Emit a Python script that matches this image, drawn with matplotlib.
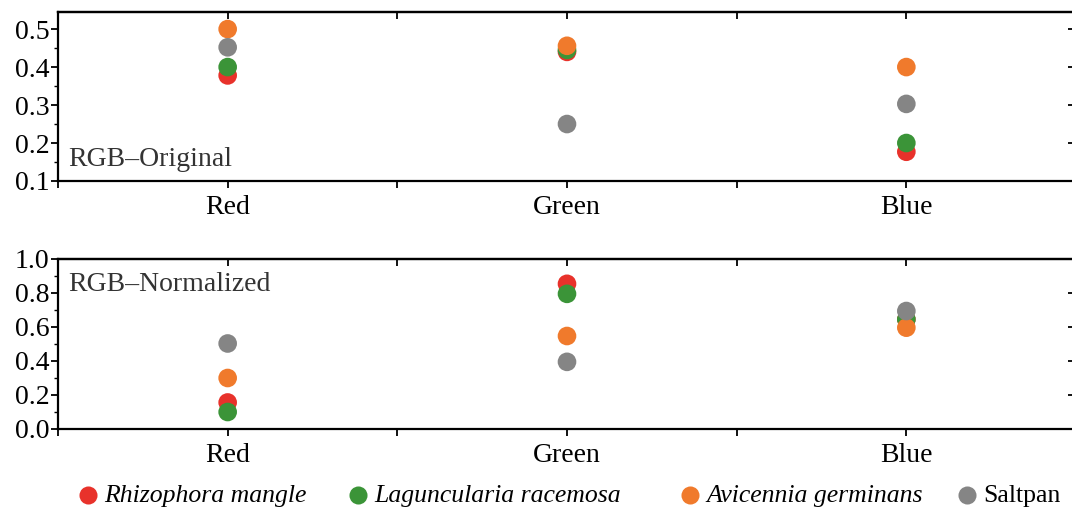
import matplotlib
matplotlib.use("Agg")
import matplotlib.pyplot as plt
from matplotlib.ticker import MultipleLocator
from matplotlib.lines import Line2D

plt.rcParams['font.family'] = ['Liberation Serif', 'DejaVu Serif']

categories = ["Red", "Green", "Blue"]
species = ["Rhizophora mangle", "Laguncularia racemosa", "Avicennia germinans", "Saltpan"]
italic = [True, True, True, False]
colors = ["#e8322b", "#3b9438", "#f07a2c", "#858585"]

original = {
    "Rhizophora mangle":     [0.378, 0.440, 0.177],
    "Laguncularia racemosa": [0.400, 0.445, 0.200],
    "Avicennia germinans":   [0.500, 0.456, 0.400],
    "Saltpan":               [0.452, 0.250, 0.303],
}
normalized = {
    "Rhizophora mangle":     [0.156, 0.854, 0.645],
    "Laguncularia racemosa": [0.100, 0.795, 0.645],
    "Avicennia germinans":   [0.300, 0.547, 0.596],
    "Saltpan":               [0.503, 0.395, 0.694],
}

W, H = 1072, 512
fig = plt.figure(figsize=(W / 100, H / 100), dpi=100)

def px_axes(left, top, right, bottom):
    return fig.add_axes([left / W, 1 - bottom / H, (right - left) / W, (bottom - top) / H])

ax1 = px_axes(58, 12, 1076, 181)
ax2 = px_axes(58, 259, 1076, 429)

FS = 20
LFS = 18.5
xs = list(range(len(categories)))

def style(ax, ylim, major, minor, label, label_pos):
    ax.set_xlim(-0.5, 2.5)
    ax.set_ylim(*ylim)
    ax.set_xticks(xs)
    ax.set_xticklabels(categories, fontsize=FS)
    ax.xaxis.set_minor_locator(MultipleLocator(0.5))
    ax.yaxis.set_major_locator(MultipleLocator(major))
    ax.yaxis.set_minor_locator(MultipleLocator(minor))
    ax.tick_params(axis='y', which='major', direction='out', length=5, width=1.3,
                   labelsize=FS, pad=1)
    ax.tick_params(axis='y', which='minor', direction='out', length=3, width=1.0)
    ax.tick_params(axis='x', which='both', direction='out', length=5, width=1.3,
                   labelsize=FS, pad=5)
    ax.tick_params(axis='x', which='minor', length=5)
    for sp in ax.spines.values():
        sp.set_linewidth(1.6)
    ax.yaxis.set_major_formatter(plt.FuncFormatter(lambda v, p: f"{v:.1f}"))
    # inward ticks on top and right
    top = ax.secondary_xaxis('top')
    top.set_xticks(xs)
    top.xaxis.set_minor_locator(MultipleLocator(0.5))
    top.tick_params(axis='x', which='both', direction='in', length=5, width=1.3,
                    labeltop=False)
    top.spines['top'].set_linewidth(1.6)
    right = ax.secondary_yaxis('right')
    right.yaxis.set_major_locator(MultipleLocator(major))
    right.tick_params(axis='y', which='both', direction='in', length=6, width=1.3,
                      labelright=False)
    right.spines['right'].set_linewidth(1.6)
    ax.text(label_pos[0], label_pos[1], label, transform=ax.transAxes,
            fontsize=FS, color="#333333", ha='left', va='center')

style(ax1, (0.1, 0.545), 0.1, 0.05, "RGB\u2013Original", (0.0098, 0.125))
style(ax2, (0.0, 1.0), 0.2, 0.1, "RGB\u2013Normalized", (0.0098, 0.85))

for data, ax in ((original, ax1), (normalized, ax2)):
    for sp_name, col in zip(species, colors):
        ax.scatter(xs, data[sp_name], s=180, color=col, edgecolors='none', zorder=3)

# legend row (entry anchor positions in pixels)
legend_x = [88, 358, 690, 967]
marker_y = 1 - 495 / H
text_y = 1 - 502 / H
for lx, name, col, it in zip(legend_x, species, colors, italic):
    fig.add_artist(Line2D([lx / W], [marker_y], marker='o', linestyle='none',
                          markersize=13, markerfacecolor=col, markeredgecolor='none',
                          transform=fig.transFigure))
    fig.text((lx + 16) / W, text_y, name, fontsize=LFS, ha='left', va='baseline',
             style='italic' if it else 'normal')

fig.savefig("out.png", dpi=100)
